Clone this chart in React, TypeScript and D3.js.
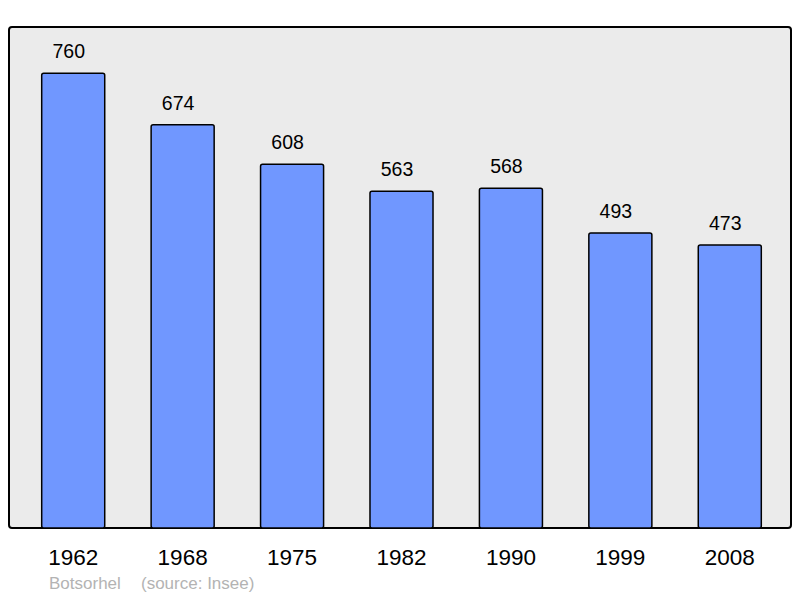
import React from "react";
import * as d3 from "d3";

const years = ["1962", "1968", "1975", "1982", "1990", "1999", "2008"];
const population = [760, 674, 608, 563, 568, 493, 473];
const commune = "Botsorhel";
const sourceText = "(source: Insee)";

export default function App() {
  const W = 800, H = 598;
  const frame = { x0: 9, y0: 27, x1: 791, y1: 528 };
  const x = d3.scaleBand<string>().domain(years).range([18.5, 784.5]).paddingInner(0.424).paddingOuter(0.212);
  const y = d3.scaleLinear().domain([0, 760]).range([528, 73.3]);
  const font = "'Liberation Sans', Arial, sans-serif";
  return (
    <svg width={W} height={H} style={{ position: "absolute", left: 0, top: 0, background: "#fff" }} fontFamily={font}>
      <rect x={frame.x0} y={frame.y0} width={frame.x1 - frame.x0} height={frame.y1 - frame.y0} rx={3} fill="#ebebeb" stroke="#000" strokeWidth={2} />
      {years.map((yr, i) => {
        const bx = x(yr)!;
        const by = y(population[i]);
        return (
          <g key={yr}>
            <rect x={bx} y={by} width={x.bandwidth()} height={y(0) - by} rx={2} fill="#7097ff" stroke="#000" strokeWidth={1.5} />
            <text x={bx + x.bandwidth() / 2 - 4.5} y={by - 15} textAnchor="middle" fontSize={19.5} fill="#000">{population[i]}</text>
            <text x={bx + x.bandwidth() / 2} y={565} textAnchor="middle" fontSize={22.5} fill="#000">{yr}</text>
          </g>
        );
      })}
      <text x={49} y={589} fontSize={17} fill="#b3b3b3">{commune}</text>
      <text x={141} y={589} fontSize={17} fill="#b3b3b3">{sourceText}</text>
    </svg>
  );
}
